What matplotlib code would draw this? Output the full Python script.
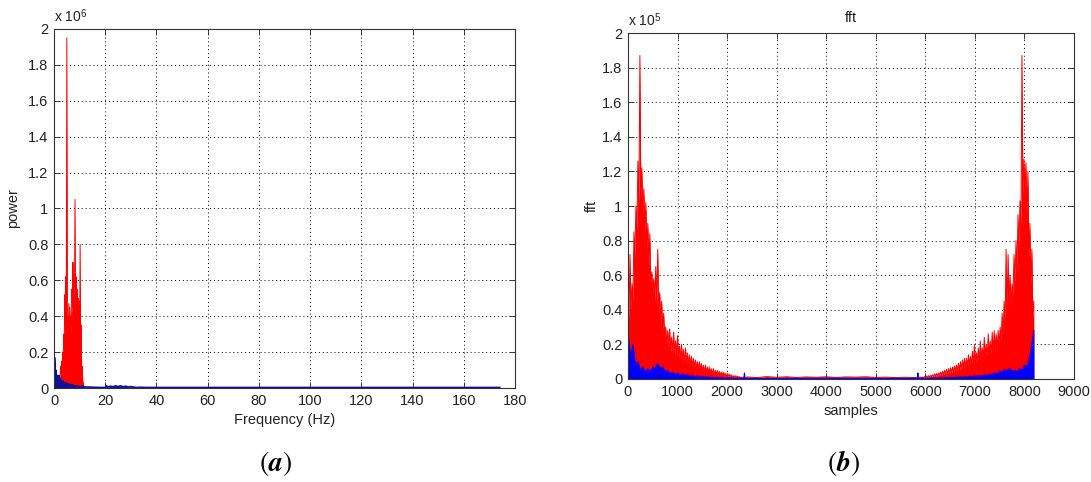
import numpy as np
import matplotlib
matplotlib.use("Agg")
import matplotlib.pyplot as plt
from matplotlib.ticker import FuncFormatter

plt.rcParams['font.family'] = ['Liberation Sans Narrow', 'Liberation Sans', 'DejaVu Sans']
plt.rcParams['mathtext.fontset'] = 'stix'

# ---- panel (a): power spectrum, values in units of 1e6 ----
a_red_f0, a_red_df = 2.0, 0.2
a_red = [0.03, 0.06, 0.05, 0.12, 0.08, 0.15, 0.10, 0.20, 0.15, 0.30,
         0.22, 0.52, 0.35, 0.62, 0.45, 1.95, 0.30, 0.40, 0.25, 0.47,
         0.27, 0.45, 0.28, 0.40, 0.35, 0.55, 0.45, 0.70, 0.50, 0.63,
         0.55, 1.05, 0.50, 0.62, 0.45, 0.55, 0.40, 0.50, 0.35, 0.48,
         0.30, 0.80, 0.25, 0.35, 0.10, 0.12, 0.04, 0.03, 0.01]

a_blue_f = [0, 0.1, 0.2, 0.3, 0.5, 0.7, 1.0, 1.3, 1.6, 2.0,
            2.3, 2.6, 3.0, 3.5, 4, 4.5, 5, 5.5, 6, 7,
            8, 9, 10, 11, 12, 14, 16, 18, 20, 20.5,
            21, 22, 23, 24, 25, 26, 27, 28, 29, 30,
            32, 34, 36, 40, 60, 80, 100, 120, 140, 160, 174]
a_blue = [0.38, 0.10, 0.17, 0.15, 0.08, 0.10, 0.06, 0.07, 0.04, 0.07,
          0.03, 0.05, 0.03, 0.04, 0.02, 0.03, 0.02, 0.025, 0.015, 0.02,
          0.01, 0.012, 0.008, 0.01, 0.006, 0.005, 0.004, 0.003, 0.003, 0.012,
          0.006, 0.01, 0.007, 0.012, 0.008, 0.012, 0.007, 0.01, 0.006, 0.008,
          0.003, 0.004, 0.003, 0.003, 0.003, 0.003, 0.003, 0.003, 0.003, 0.003, 0.003]

# ---- panel (b): fft magnitude, values in units of 1e5 ----
# left lobe: peaks every 40 samples from 0, troughs in between
b_red_left_peaks = [0.45, 0.72, 0.55, 0.85, 1.0, 1.26, 1.87, 1.22, 1.1, 1.02,
                    0.9, 0.84, 0.62, 0.58, 0.65, 0.75, 0.5, 0.45, 0.38, 0.3,
                    0.28, 0.29, 0.24, 0.27, 0.22, 0.25, 0.19, 0.2, 0.17, 0.18,
                    0.15, 0.14, 0.13, 0.12, 0.11, 0.1, 0.1, 0.09, 0.08, 0.08,
                    0.07, 0.07, 0.06, 0.06, 0.05, 0.05, 0.045, 0.04, 0.04, 0.035,
                    0.03, 0.03, 0.025, 0.02, 0.02, 0.018, 0.015, 0.012, 0.012, 0.01, 0.01]
b_red_left_troughs = [0.35, 0.4, 0.45, 0.7, 0.85, 1.0, 1.05, 0.95, 0.85, 0.75,
                      0.65, 0.55, 0.5, 0.45, 0.42, 0.38, 0.32, 0.28, 0.24, 0.2,
                      0.18, 0.16, 0.15, 0.14, 0.13, 0.12, 0.11, 0.1, 0.09, 0.085,
                      0.08, 0.075, 0.07, 0.065, 0.06, 0.055, 0.05, 0.045, 0.04, 0.038,
                      0.035, 0.032, 0.03, 0.028, 0.025, 0.022, 0.02, 0.018, 0.016, 0.014,
                      0.012, 0.011, 0.01, 0.009, 0.008, 0.007, 0.006, 0.005, 0.005, 0.004]
# middle: every 200 samples from 2400
b_red_mid = [0.012, 0.008, 0.014, 0.010, 0.013, 0.009, 0.012, 0.010, 0.013,
             0.009, 0.012, 0.011, 0.013, 0.009, 0.011, 0.008, 0.010, 0.008]
# right lobe: peaks every 40 samples from 5790
b_red_right_peaks = [0.008, 0.01, 0.01, 0.012, 0.012, 0.015, 0.018, 0.02, 0.022, 0.025,
                     0.03, 0.032, 0.035, 0.04, 0.045, 0.05, 0.055, 0.06, 0.065, 0.07,
                     0.075, 0.08, 0.09, 0.1, 0.11, 0.12, 0.12, 0.14, 0.13, 0.16,
                     0.2, 0.15, 0.18, 0.22, 0.18, 0.24, 0.2, 0.26, 0.22, 0.27,
                     0.28, 0.26, 0.28, 0.3, 0.38, 0.45, 0.75, 0.72, 0.6, 0.55,
                     0.72, 0.8, 0.95, 1.03, 1.87, 1.27, 1.25, 1.2, 0.9, 0.75, 0.45]
b_red_right_troughs = [0.003, 0.004, 0.004, 0.005, 0.006, 0.007, 0.008, 0.01, 0.012, 0.013,
                       0.015, 0.017, 0.02, 0.022, 0.025, 0.028, 0.03, 0.033, 0.036, 0.04,
                       0.043, 0.047, 0.05, 0.055, 0.06, 0.065, 0.07, 0.075, 0.08, 0.09,
                       0.09, 0.1, 0.1, 0.11, 0.12, 0.12, 0.13, 0.14, 0.15, 0.16,
                       0.17, 0.18, 0.2, 0.22, 0.26, 0.32, 0.4, 0.45, 0.42, 0.48,
                       0.55, 0.62, 0.75, 0.88, 1.05, 1.1, 0.95, 0.7, 0.55, 0.35]

# blue: every 50 samples from 0, spikes in the middle, every 50 samples from 5900
b_blue_left = [0.28, 0.12, 0.2, 0.08, 0.1, 0.05, 0.07, 0.04, 0.06, 0.04,
               0.07, 0.06, 0.09, 0.06, 0.07, 0.04, 0.05, 0.03, 0.04, 0.025,
               0.035, 0.02, 0.03, 0.02, 0.025, 0.015, 0.02, 0.012, 0.018, 0.01,
               0.015, 0.01, 0.012, 0.008, 0.01, 0.007, 0.009, 0.006, 0.008, 0.005,
               0.007, 0.005, 0.006, 0.004, 0.005, 0.004, 0.004]
b_blue_mid_x = [2340, 2350, 2360, 3000, 4000, 5000, 5840, 5850, 5860]
b_blue_mid = [0.004, 0.035, 0.004, 0.004, 0.005, 0.004, 0.004, 0.035, 0.004]
b_blue_right = [0.004, 0.004, 0.005, 0.004, 0.005, 0.005, 0.006, 0.005, 0.007, 0.006,
                0.008, 0.007, 0.009, 0.008, 0.01, 0.009, 0.012, 0.01, 0.014, 0.012,
                0.016, 0.013, 0.018, 0.015, 0.02, 0.017, 0.024, 0.02, 0.028, 0.025,
                0.035, 0.03, 0.045, 0.04, 0.055, 0.05, 0.06, 0.045, 0.05, 0.04,
                0.06, 0.05, 0.08, 0.07, 0.12, 0.2, 0.28]


def interleave(start, step, peaks, troughs):
    xp = start + step * np.arange(len(peaks))
    xt = xp[:len(troughs)] + step / 2
    x = np.empty(len(peaks) + len(troughs))
    y = np.empty_like(x)
    x[0::2], y[0::2] = xp, peaks
    x[1::2], y[1::2] = xt, troughs
    return x, y


def style(ax):
    ax.set_axisbelow(True)
    ax.grid(True, linestyle=(0, (1, 3)), color='k', linewidth=0.7)
    ax.tick_params(direction='in', top=True, right=True, length=4, width=0.6,
                   labelsize=10.5, colors='#222222', pad=4)
    for s in ax.spines.values():
        s.set_linewidth(0.8)
        s.set_color('#333333')
    ax.set_ylim(0, 2)
    ax.set_yticks(np.arange(0, 2.01, 0.2))
    ax.yaxis.set_major_formatter(FuncFormatter(lambda v, p: '%g' % round(v, 1)))


fig = plt.figure(figsize=(10.91, 4.82), dpi=100)
ax1 = fig.add_axes([0.0495, 0.195, 0.4226, 0.745])
ax2 = fig.add_axes([0.5756, 0.2137, 0.4088, 0.7178])

# panel (a)
fa = a_red_f0 + a_red_df * np.arange(len(a_red))
ax1.fill_between(fa, 0, a_red, color='#ff0000', linewidth=0)
ax1.plot(fa, a_red, color='#ff0000', linewidth=0.7)
ax1.fill_between(a_blue_f, 0, a_blue, color='#10109a', linewidth=0)
ax1.plot(a_blue_f, a_blue, color='#10109a', linewidth=1.2)
style(ax1)
ax1.set_xlim(0, 180)
ax1.set_xticks(np.arange(0, 181, 20))
ax1.set_xlabel('Frequency (Hz)', fontsize=10.5, color='#222222', labelpad=4)
ax1.set_ylabel('power', fontsize=10.5, color='#222222', labelpad=6)
ax1.text(0.0, 1.012, r'x 10$^{\mathregular{6}}$', transform=ax1.transAxes,
         fontsize=10, color='#222222', va='bottom')

# panel (b)
xl, yl = interleave(0, 40, b_red_left_peaks, b_red_left_troughs)
xm = 2400 + 200 * np.arange(len(b_red_mid))
xr, yr = interleave(5790, 40, b_red_right_peaks, b_red_right_troughs)
bx = np.concatenate([xl, xm, xr])
by = np.concatenate([yl, b_red_mid, yr])
ax2.fill_between(bx, 0, by, color='#ff0000', linewidth=0)
ax2.plot(bx, by, color='#ff0000', linewidth=0.7)

bbx = np.concatenate([50 * np.arange(len(b_blue_left)), b_blue_mid_x,
                      5900 + 50 * np.arange(len(b_blue_right) - 1), [8192]])
bby = np.concatenate([b_blue_left, b_blue_mid, b_blue_right])
ax2.fill_between(bbx, 0, bby, color='#0000ff', linewidth=0)
ax2.plot(bbx, bby, color='#0000ff', linewidth=0.8)
style(ax2)
ax2.set_xlim(0, 9000)
ax2.set_xticks(np.arange(0, 9001, 1000))
ax2.set_xlabel('samples', fontsize=10.5, color='#222222', labelpad=4)
ax2.set_ylabel('fft', fontsize=10.5, color='#222222', labelpad=2)
ax2.set_title('fft', fontsize=10.5, color='#222222', pad=8)
ax2.text(0.0, 1.012, r'x 10$^{\mathregular{5}}$', transform=ax2.transAxes,
         fontsize=10, color='#222222', va='bottom')

fig.text(275 / 1091, 1 - 463 / 482, r'$(\mathbfit{a})$', ha='center', va='center', fontsize=20)
fig.text(843 / 1091, 1 - 463 / 482, r'$(\mathbfit{b})$', ha='center', va='center', fontsize=20)

fig.savefig('out.png', dpi=100)
